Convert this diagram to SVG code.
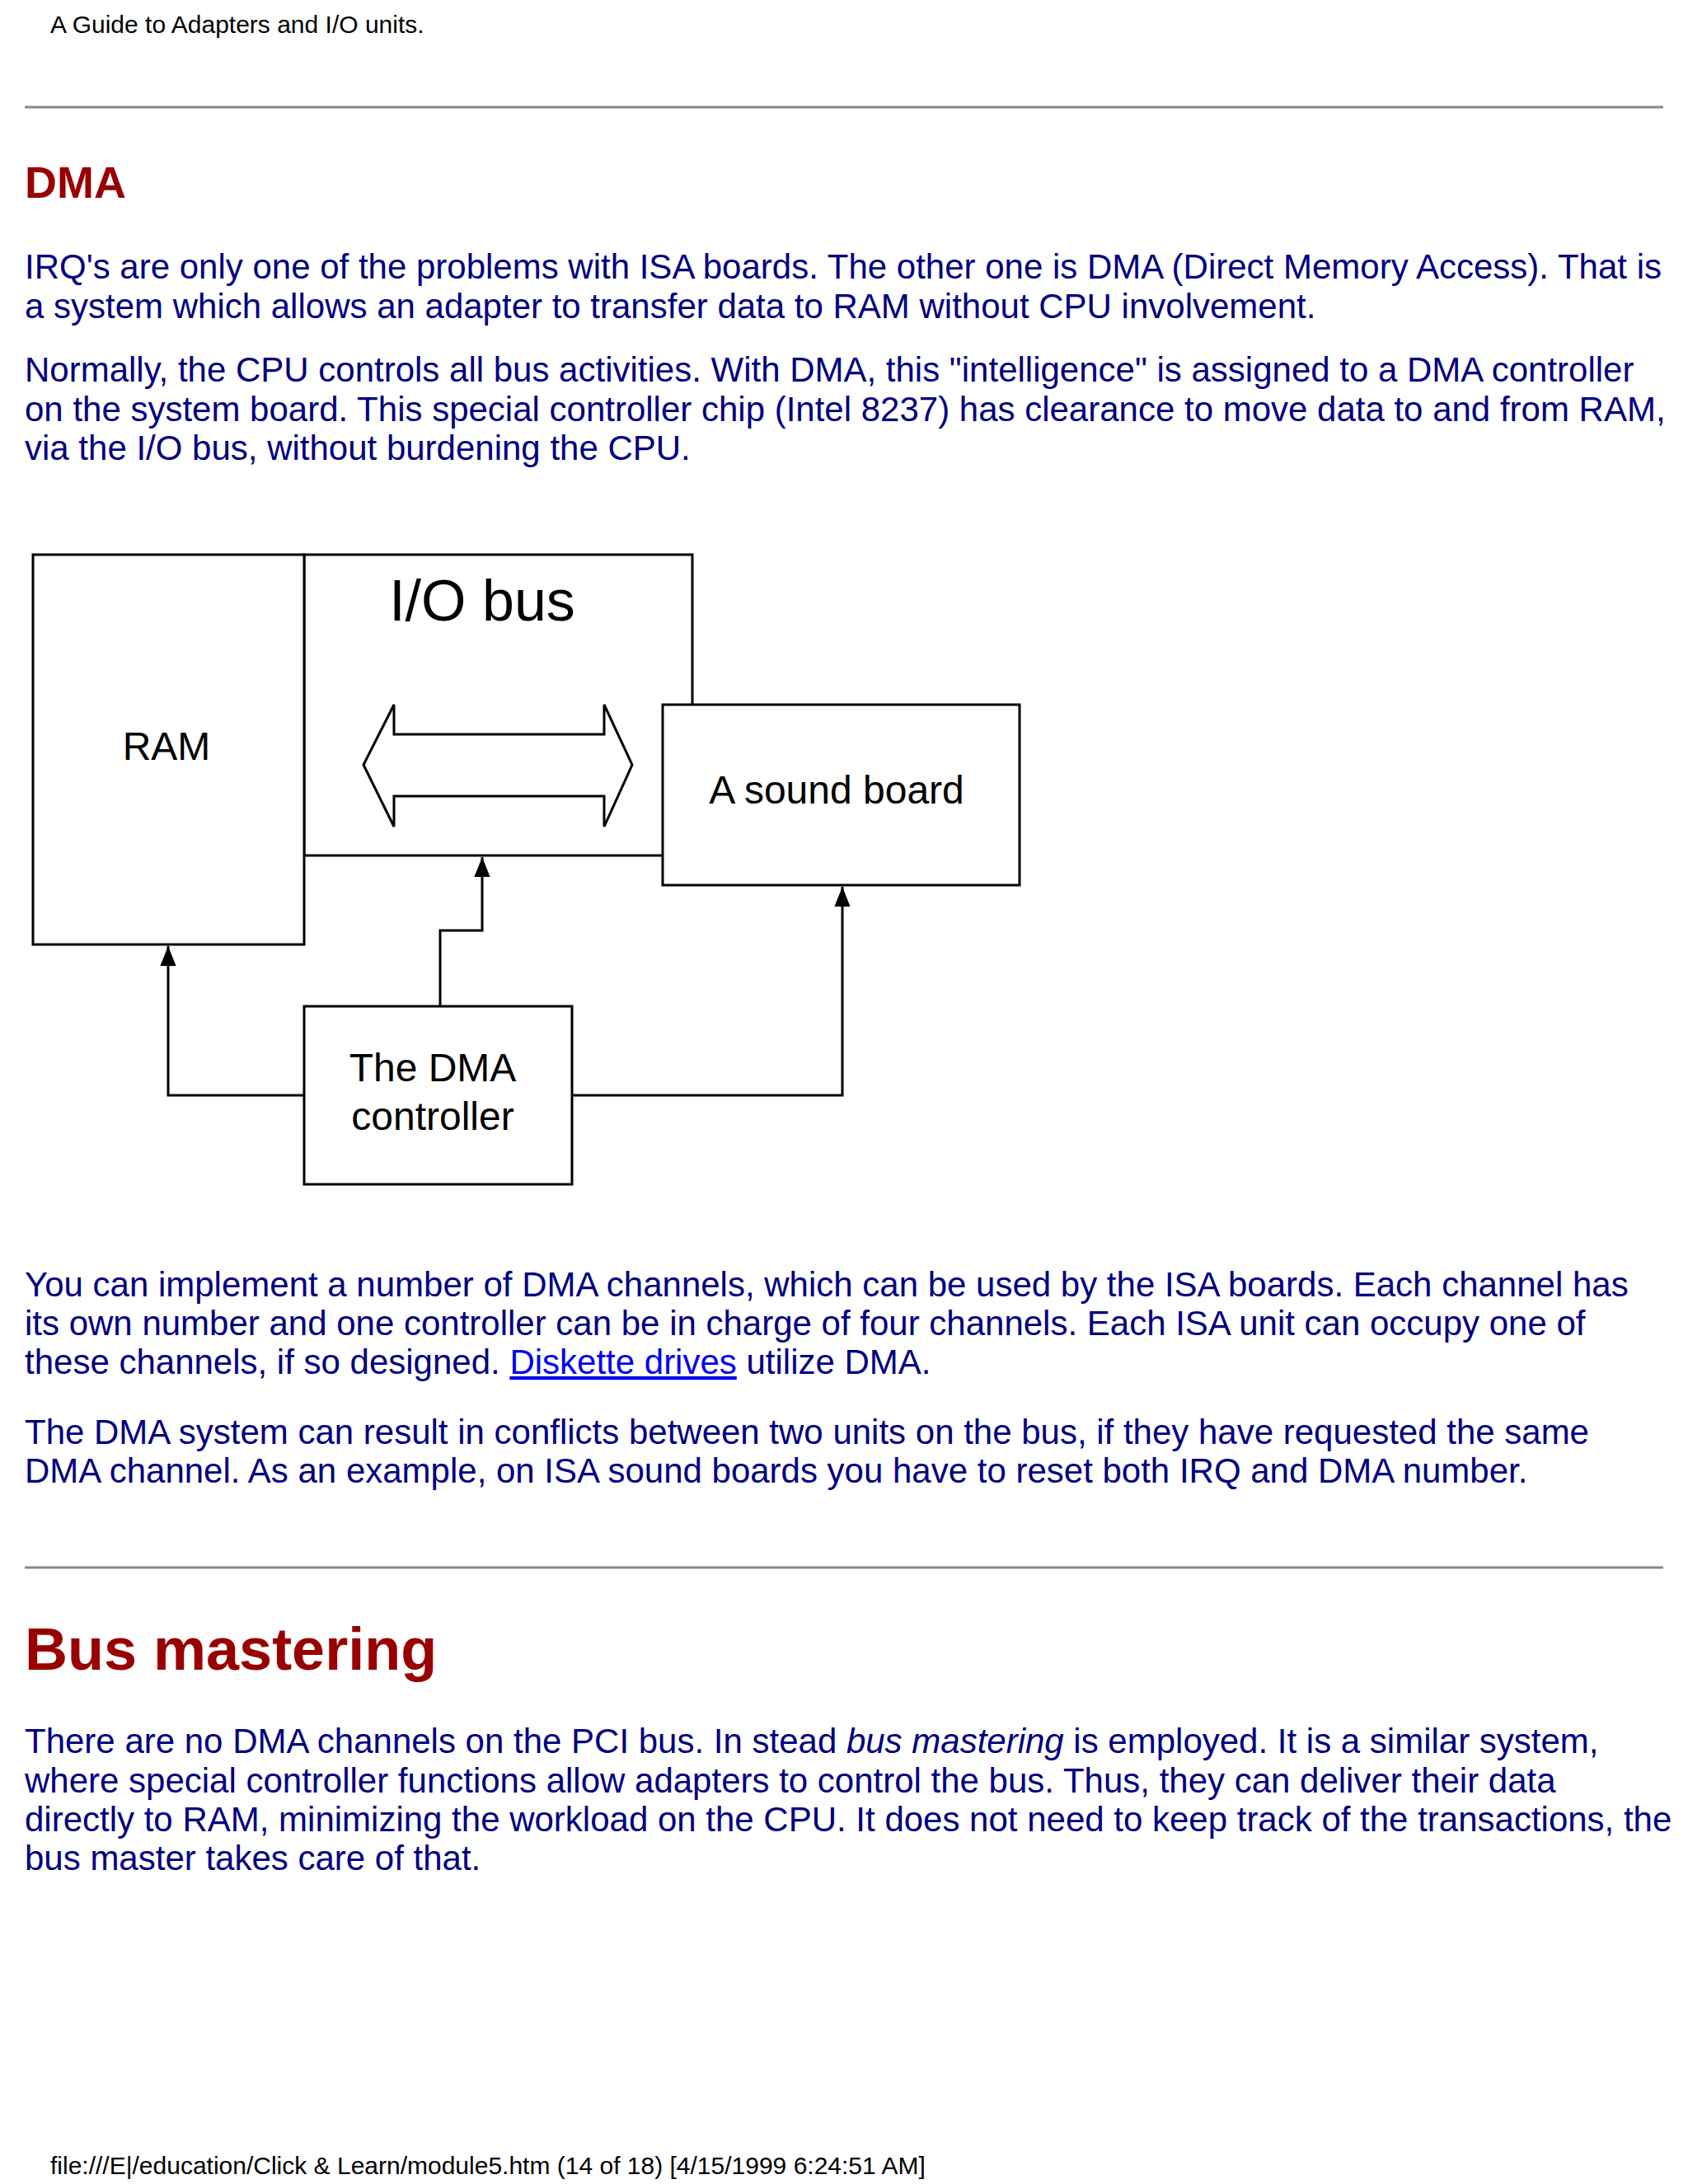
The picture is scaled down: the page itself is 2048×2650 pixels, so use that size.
<svg xmlns="http://www.w3.org/2000/svg" width="2048" height="2650" viewBox="0 0 2048 2650">
<style>
.p{font-family:"Liberation Sans",Arial,sans-serif;font-size:42px;fill:#000080}
.h{font-family:"Liberation Sans",Arial,sans-serif;font-weight:bold;fill:#990000}
.s{font-family:"Liberation Sans",Arial,sans-serif;font-size:30px;fill:#000}
.b{fill:#fff;stroke:#000;stroke-width:3}
.d{font-family:"Liberation Sans",Arial,sans-serif;font-size:48px;fill:#000;text-anchor:middle}
.c{fill:none;stroke:#000;stroke-width:3}
.hr{stroke:#888;stroke-width:3}
</style>
<defs><marker id="a" viewBox="0 0 10 10" refX="10" refY="5" markerWidth="8" markerHeight="8" orient="auto"><path d="M0,1 L10,5 L0,9 z" fill="#000"/></marker></defs>
<rect width="2048" height="2650" fill="#fff"/>
<text class="s" x="61" y="40">A Guide to Adapters and I/O units.</text>
<line class="hr" x1="30" y1="130" x2="2018" y2="130"/>
<text class="h" x="30" y="240" style="font-size:54px">DMA</text>
<text class="p" x="30" y="338">IRQ's are only one of the problems with ISA boards. The other one is DMA (Direct Memory Access). That is</text>
<text class="p" x="30" y="386">a system which allows an adapter to transfer data to RAM without CPU involvement.</text>
<text class="p" x="30" y="463">Normally, the CPU controls all bus activities. With DMA, this "intelligence" is assigned to a DMA controller</text>
<text class="p" x="30" y="511">on the system board. This special controller chip (Intel 8237) has clearance to move data to and from RAM,</text>
<text class="p" x="30" y="558">via the I/O bus, without burdening the CPU.</text>
<g id="iobus"><rect class="b" x="369" y="673" width="471" height="365"/><text class="d" x="585" y="753" style="font-size:70px">I/O bus</text>
<path class="c" d="M478,855 V891 H733 V855 L767,928 L733,1003 V966 H478 V1003 L441,928 Z"/></g>
<g id="ram"><rect class="b" x="40" y="673" width="329" height="473"/><text class="d" x="202" y="922">RAM</text></g>
<g id="sound"><rect class="b" x="804" y="855" width="433" height="219"/><text class="d" x="1015" y="975">A sound board</text></g>
<g id="dma"><rect class="b" x="369" y="1221" width="325" height="216"/><text class="d" x="525" y="1312">The DMA</text><text class="d" x="525" y="1371">controller</text></g>
<g id="connectors">
<path class="c" d="M534,1221 V1129 H585 V1040" marker-end="url(#a)"/>
<path class="c" d="M369,1329 H204 V1148" marker-end="url(#a)"/>
<path class="c" d="M694,1329 H1022 V1076" marker-end="url(#a)"/>
</g>
<text class="p" x="30" y="1573">You can implement a number of DMA channels, which can be used by the ISA boards. Each channel has</text>
<text class="p" x="30" y="1620">its own number and one controller can be in charge of four channels. Each ISA unit can occupy one of</text>
<text class="p" x="30" y="1667">these channels, if so designed. <tspan fill="#0000ee" text-decoration="underline">Diskette drives</tspan> utilize DMA.</text>
<text class="p" x="30" y="1752">The DMA system can result in conflicts between two units on the bus, if they have requested the same</text>
<text class="p" x="30" y="1799">DMA channel. As an example, on ISA sound boards you have to reset both IRQ and DMA number.</text>
<line class="hr" x1="30" y1="1902" x2="2018" y2="1902"/>
<text class="h" x="30" y="2026" style="font-size:72px">Bus mastering</text>
<text class="p" x="30" y="2127">There are no DMA channels on the PCI bus. In stead <tspan font-style="italic">bus mastering</tspan> is employed. It is a similar system,</text>
<text class="p" x="30" y="2175">where special controller functions allow adapters to control the bus. Thus, they can deliver their data</text>
<text class="p" x="30" y="2222">directly to RAM, minimizing the workload on the CPU. It does not need to keep track of the transactions, the</text>
<text class="p" x="30" y="2269">bus master takes care of that.</text>
<text class="s" x="61" y="2638">file:///E|/education/Click &amp; Learn/module5.htm (14 of 18) [4/15/1999 6:24:51 AM]</text>
</svg>
